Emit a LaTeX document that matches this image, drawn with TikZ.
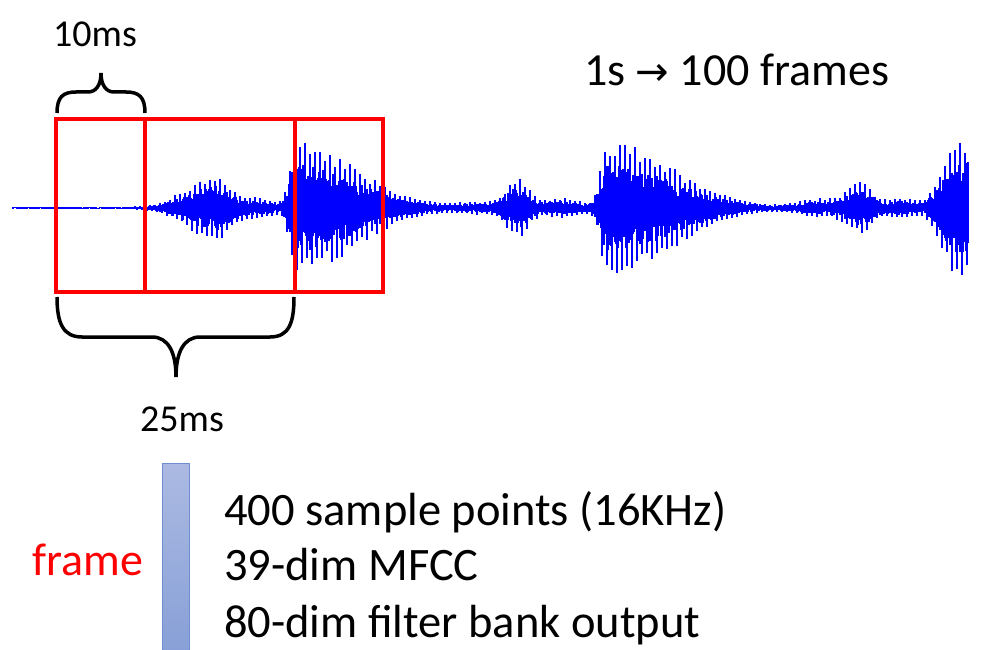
\documentclass[tikz,border=0pt]{standalone}
\usepackage{fontspec}
\setmainfont{Carlito}
\newfontfamily\arrowfont{DejaVu Sans}

\definecolor{bartop}{RGB}{172,186,226}
\definecolor{barbot}{RGB}{136,160,215}
\definecolor{barline}{RGB}{110,142,208}

\tikzset{
  lbl/.style={inner sep=0pt, anchor=base west, font=\fontsize{38}{40}\selectfont},
  bigtxt/.style={inner sep=0pt, anchor=base west, font=\fontsize{46.5}{50}\selectfont},
  ratetxt/.style={inner sep=0pt, anchor=base west, font=\fontsize{46}{50}\selectfont},
  window/.style={draw=red, line width=4.5pt},
  brace/.style={draw=black, line width=3.5pt},
  wave/.style={blue, line width=1.3pt},
  framebar/.style={draw=barline, line width=1pt, top color=bartop, bottom color=barbot,
    minimum width=27pt, minimum height=188pt, inner sep=0pt},
  declare function={
    B(\x,\c,\l,\r)=exp(-1*pow(min(abs(\x-\c)/((\x<\c)*\l+(\x>=\c)*\r),6),2));
    env(\x)=1.2+32*B(\x,215,40,20)+9*B(\x,255,30,30)+65*B(\x,295,8,85)
      +5*B(\x,480,30,30)+28*B(\x,517,15,15)+9*B(\x,560,30,30)
      +66*B(\x,608,10,90)+8*B(\x,820,30,30)+24*B(\x,862,20,15)
      +10*B(\x,900,20,20)+70*B(\x,958,22,200);
  }
}

\begin{document}
\begin{tikzpicture}[x=1pt,y=-1pt]
    \useasboundingbox (0,0) rectangle (988,650);

    % Waveform
    \pgfmathsetseed{12}
    \foreach \xx in {13,...,968}{
        \pgfmathsetmacro\ee{env(\xx)}
        \pgfmathsetmacro\pu{mod(\xx,5)==0}
        \pgfmathsetmacro\pd{mod(\xx,5)==2}
        \pgfmathsetmacro\up{\ee*(\pu*(0.75+0.25*rnd)+(1-\pu)*(0.3+0.35*rnd))}
        \pgfmathsetmacro\dn{\ee*(\pd*(0.75+0.25*rnd)+(1-\pd)*(0.3+0.35*rnd))}
        \draw[wave] (\xx,208-\up) -- (\xx,208+\dn);
    }

    % Frames
    \draw[window] (56,119) rectangle (295,292);
    \draw[window] (145,119) rectangle (383,292);

    % Braces
    \coordinate (t1) at (57,113);
    \coordinate (t2) at (145,113);
    \coordinate (b1) at (57,297);
    \coordinate (b2) at (294,297);
    \draw[brace] (t1) .. controls (57,97) and (63,92) .. (76,92) -- (88,92)
        .. controls (96,92) and (101,85) .. (101,73)
        .. controls (101,85) and (106,92) .. (114,92) -- (126,92)
        .. controls (139,92) and (145,97) .. (t2);
    \draw[brace] (b1) .. controls (57,323) and (63,337) .. (82,337) -- (152,337)
        .. controls (168,337) and (176,352) .. (176,377)
        .. controls (176,352) and (184,337) .. (200,337) -- (270,337)
        .. controls (289,337) and (294,323) .. (b2);

    % Nodes
    \node[lbl] (tenms) at (53,47) {10ms};
    \node[lbl] (twentyfivems) at (140,431) {25ms};
    \node[ratetxt] (rate) at (584,86) {1s {\arrowfont\fontsize{40}{40}\selectfont →} 100 frames};
    \node[ratetxt, text=red] (framelbl) at (32,575) {frame};
    \node[framebar] (bar) at (175.5,557) {};
    \node[bigtxt] (points) at (224,525) {400 sample points (16KHz)};
    \node[bigtxt] (mfcc) at (224,580) {39-dim MFCC};
    \node[bigtxt] (fbank) at (224,637) {80-dim filter bank output};
\end{tikzpicture}
\end{document}
